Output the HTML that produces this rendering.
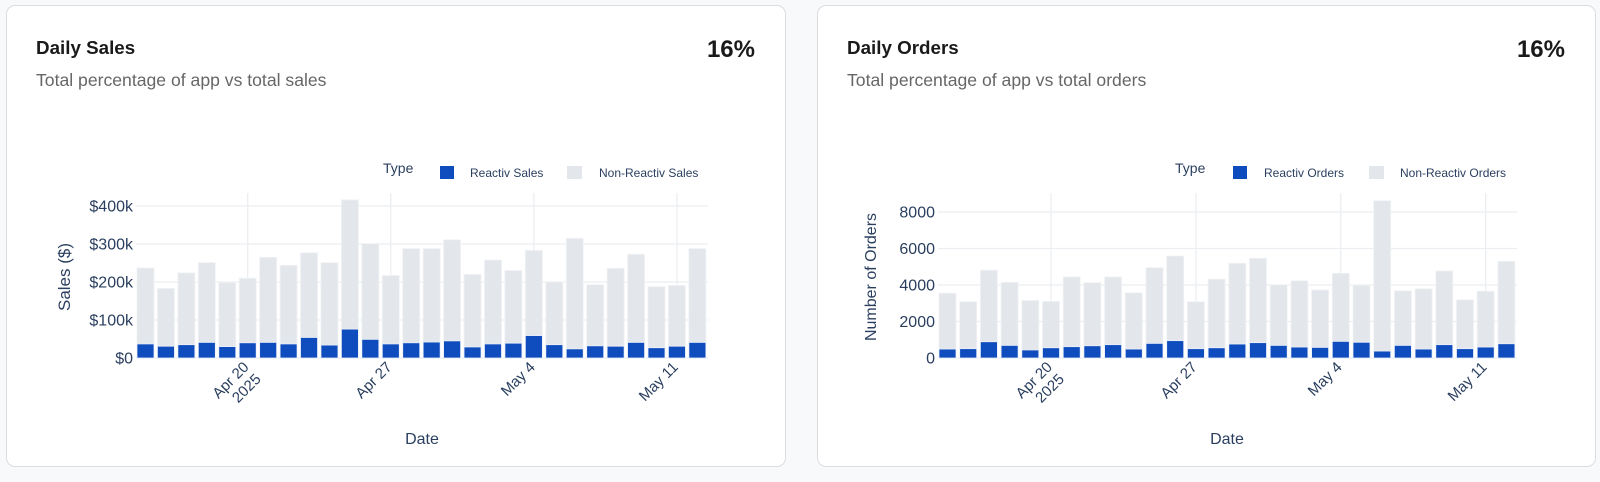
<!DOCTYPE html>
<html><head><meta charset="utf-8"><style>
html,body{margin:0;padding:0;background:#f8f9fb;width:1600px;height:482px;overflow:hidden;font-family:"Liberation Sans",sans-serif}
.card{position:absolute;top:5px;height:462px;background:#fff;border:1px solid #dcdde0;border-radius:9px;box-sizing:border-box}
svg{position:absolute;left:0;top:0}
</style></head><body>
<div class="card" style="left:6px;width:780px"></div>
<div class="card" style="left:817px;width:779px"></div>
<svg id="s" width="1600" height="482" xmlns="http://www.w3.org/2000/svg" font-family="Liberation Sans, sans-serif">
<text x="36" y="54" font-size="18.8" font-weight="bold" fill="#1a1a1a">Daily Sales</text>
<text x="36" y="86" font-size="17.6" fill="#666">Total percentage of app vs total sales</text>
<text x="755" y="57" font-size="24" font-weight="bold" fill="#1a1a1a" text-anchor="end">16%</text>
<text x="847" y="54" font-size="18.8" font-weight="bold" fill="#1a1a1a">Daily Orders</text>
<text x="847" y="86" font-size="17.6" fill="#666">Total percentage of app vs total orders</text>
<text x="1565" y="57" font-size="24" font-weight="bold" fill="#1a1a1a" text-anchor="end">16%</text>
<g fill="#2a3f5f">
<text x="383" y="173" font-size="14">Type</text>
<rect x="440" y="166" width="14" height="13" fill="#0f4cbd"/>
<text x="470" y="177" font-size="12">Reactiv Sales</text>
<rect x="567" y="166" width="15" height="13" fill="#e3e6ea"/>
<text x="599" y="177" font-size="12">Non-Reactiv Sales</text>
<text x="1175" y="173" font-size="14">Type</text>
<rect x="1233" y="166" width="14" height="13" fill="#0f4cbd"/>
<text x="1264" y="177" font-size="12">Reactiv Orders</text>
<rect x="1369" y="166" width="15" height="13" fill="#e3e6ea"/>
<text x="1400" y="177" font-size="12">Non-Reactiv Orders</text>
<text x="422" y="444" font-size="16" text-anchor="middle">Date</text>
<text x="1227" y="444" font-size="16" text-anchor="middle">Date</text>
<text transform="translate(70,277) rotate(-90)" font-size="17" text-anchor="middle">Sales ($)</text>
<text transform="translate(876,277) rotate(-90)" font-size="16" text-anchor="middle">Number of Orders</text>
</g>
<g id="g"></g>
</svg>
<script>
var NS="http://www.w3.org/2000/svg",g=document.getElementById('g');
function el(t,a,txt){var e=document.createElementNS(NS,t);for(var k in a)e.setAttribute(k,a[k]);if(txt!=null)e.textContent=txt;g.appendChild(e);return e;}
function chart(o){
 o.yt.forEach(function(t){var y=o.y(t[0]);el('line',{x1:o.x0,x2:o.x1,y1:y,y2:y,stroke:'#eceef1','stroke-width':1.3});
  el('text',{x:o.x0-3,y:y+5.5,'font-size':16,'text-anchor':'end',fill:'#2a3f5f'},t[1]);});
 o.xt.forEach(function(t){var x=o.bx+t[0]*o.p+8.5;el('line',{x1:x,x2:x,y1:193,y2:358,stroke:'#eceef1','stroke-width':1.3});
  el('text',{transform:'translate('+(x+2)+',368) rotate(-45)','font-size':15,'text-anchor':'end',fill:'#2a3f5f'},t[1]);
  if(t[2]){el('text',{transform:'translate('+(x+2)+',368) rotate(-45)','font-size':15,'text-anchor':'end',fill:'#2a3f5f',y:17},t[2]);}
 });
 for(var i=0;i<o.tot.length;i++){var x=o.bx+i*o.p,yt=o.y(o.tot[i]),yr=o.y(o.r[i]),y0=o.y(0);
  el('rect',{x:x,y:yt,width:17,height:yr-yt,fill:'#e3e6ea',stroke:'#f0f2f5','stroke-width':0.8});
  el('rect',{x:x,y:yr,width:17,height:y0-yr,fill:'#0f4cbd',stroke:'#e8eefa','stroke-width':0.8});}
}
chart({x0:136,x1:708,bx:137,p:20.44,y:function(v){return 358-v*0.38;},
 yt:[[0,'$0'],[100,'$100k'],[200,'$200k'],[300,'$300k'],[400,'$400k']],
 xt:[[5,'Apr 20','2025'],[12,'Apr 27'],[19,'May 4'],[26,'May 11']],
 tot:[237,183,224,251,199,210,265,244,277,251,416,301,217,288,288,311,220,258,230,283,200,315,193,236,273,188,191,288],
 r:[37,31,35,41,30,40,41,37,54,34,76,49,37,40,42,45,29,37,39,59,35,24,32,31,41,27,31,41]});
chart({x0:938,x1:1517,bx:939,p:20.7,y:function(v){return 358-v*146/8000;},
 yt:[[0,'0'],[2000,'2000'],[4000,'4000'],[6000,'6000'],[8000,'8000']],
 xt:[[5,'Apr 20','2025'],[12,'Apr 27'],[19,'May 4'],[26,'May 11']],
 tot:[3550,3080,4810,4150,3150,3100,4440,4130,4440,3570,4950,5590,3080,4320,5190,5460,4010,4230,3730,4640,3990,8620,3680,3790,4770,3190,3660,5300],
 r:[490,510,890,690,440,560,620,670,730,490,800,950,510,560,765,840,690,600,580,910,860,380,690,490,730,510,600,780]});
</script>
</body></html>
